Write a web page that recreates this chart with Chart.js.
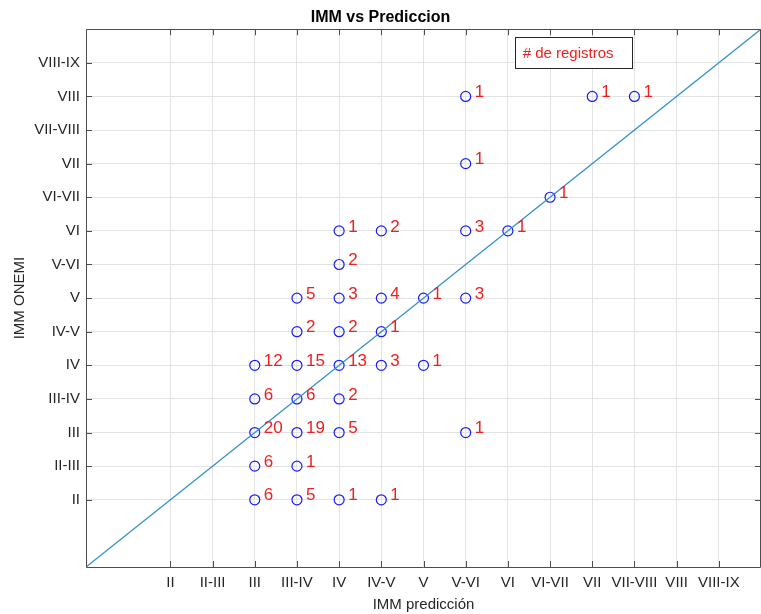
<!DOCTYPE html>
<html>
<head>
<meta charset="utf-8">
<script src="https://cdn.jsdelivr.net/npm/chart.js@4/dist/chart.umd.min.js"></script>
<style>
  html, body { margin: 0; padding: 0; background: #fff; }
</style>
</head>
<body>
<canvas id="chart" width="761" height="614"></canvas>
<script>
// intensity levels used on both axes (value = index + 2)
const levels = ['II', 'II-III', 'III', 'III-IV', 'IV', 'IV-V', 'V', 'V-VI', 'VI', 'VI-VII', 'VII', 'VII-VIII', 'VIII', 'VIII-IX'];

// one entry per marker: predicted level, ONEMI level, number of records
const predicted = ['V-VI', 'VII', 'VII-VIII', 'V-VI', 'VI-VII', 'IV', 'IV-V', 'V-VI', 'VI', 'IV',
  'III-IV', 'IV', 'IV-V', 'V', 'V-VI', 'III-IV', 'IV', 'IV-V', 'III', 'III-IV', 'IV', 'IV-V', 'V',
  'III', 'III-IV', 'IV', 'III', 'III-IV', 'IV', 'V-VI', 'III', 'III-IV', 'III', 'III-IV', 'IV', 'IV-V'];
const observed = ['VIII', 'VIII', 'VIII', 'VII', 'VI-VII', 'VI', 'VI', 'VI', 'VI', 'V-VI',
  'V', 'V', 'V', 'V', 'V', 'IV-V', 'IV-V', 'IV-V', 'IV', 'IV', 'IV', 'IV', 'IV',
  'III-IV', 'III-IV', 'III-IV', 'III', 'III', 'III', 'III', 'II-III', 'II-III', 'II', 'II', 'II', 'II'];
const counts = [1, 1, 1, 1, 1, 1, 2, 3, 1, 2,
  5, 3, 4, 1, 3, 2, 2, 1, 12, 15, 13, 3, 1,
  6, 6, 2, 20, 19, 5, 1, 6, 1, 6, 5, 1, 1];

// reference line y = x across the full axis range
const diagonal = [0, 16];

const FONT = "'Liberation Sans', Arial, Helvetica, sans-serif";
const levelValue = l => levels.indexOf(l) + 2;
const levelTicks = () => levels.map((l, i) => ({ value: i + 2 }));

const points = predicted.map((p, i) => ({ x: levelValue(p), y: levelValue(observed[i]) }));

// frame, inward tick marks, count labels and the text legend
const decorations = {
  id: 'decorations',
  afterDraw(chart) {
    const { ctx, chartArea: a, scales } = chart;
    ctx.save();
    ctx.strokeStyle = '#4d4d4d';
    ctx.lineWidth = 1;
    ctx.beginPath();
    ctx.rect(Math.round(a.left) + 0.5, Math.round(a.top) + 0.5,
      Math.round(a.right - a.left) - 1, Math.round(a.bottom - a.top));
    const tl = 6;
    scales.x.ticks.forEach(t => {
      const px = Math.round(scales.x.getPixelForValue(t.value)) + 0.5;
      ctx.moveTo(px, a.bottom); ctx.lineTo(px, a.bottom - tl);
      ctx.moveTo(px, a.top); ctx.lineTo(px, a.top + tl);
    });
    scales.y.ticks.forEach(t => {
      const py = Math.round(scales.y.getPixelForValue(t.value)) + 0.5;
      ctx.moveTo(a.left, py); ctx.lineTo(a.left + tl, py);
      ctx.moveTo(a.right, py); ctx.lineTo(a.right - tl, py);
    });
    ctx.stroke();

    // number of records next to each marker
    const meta = chart.getDatasetMeta(1);
    ctx.fillStyle = '#f01e1e';
    ctx.font = '17px ' + FONT;
    ctx.textAlign = 'left';
    ctx.textBaseline = 'middle';
    meta.data.forEach((el, i) => {
      ctx.fillText(String(counts[i]), el.x + 9, el.y - 4);
    });

    // legend box
    const bx = a.left + (a.right - a.left) * 0.635;
    const by = a.top + 8;
    const bw = 117, bh = 31;
    ctx.fillStyle = '#fff';
    ctx.fillRect(bx, by, bw, bh);
    ctx.strokeStyle = '#262626';
    ctx.strokeRect(Math.round(bx) + 0.5, Math.round(by) + 0.5, bw, bh);
    ctx.fillStyle = '#f01e1e';
    ctx.font = '15px ' + FONT;
    ctx.fillText('# de registros', bx + 8, by + bh / 2 + 1);
    ctx.restore();
  }
};

new Chart(document.getElementById('chart'), {
  type: 'scatter',
  data: {
    datasets: [
      {
        type: 'line',
        data: diagonal.map(v => ({ x: v, y: v })),
        borderColor: '#2f8fc8',
        borderWidth: 1.3,
        pointRadius: 0,
        fill: false
      },
      {
        data: points,
        pointStyle: 'circle',
        pointRadius: 5,
        borderWidth: 1.2,
        borderColor: '#1a1aff',
        backgroundColor: 'rgba(0,0,0,0)'
      }
    ]
  },
  options: {
    responsive: false,
    animation: false,
    layout: { padding: 0, autoPadding: false },
    plugins: {
      legend: { display: false },
      tooltip: { enabled: false },
      title: {
        display: true,
        text: 'IMM vs Prediccion',
        color: '#000',
        font: { family: FONT, size: 16, weight: 'bold' },
        padding: { top: 8, bottom: 2 }
      }
    },
    scales: {
      x: {
        type: 'linear',
        min: 0,
        max: 16,
        afterBuildTicks: s => { s.ticks = levelTicks(); },
        afterFit: s => { s.height = 47; },
        ticks: {
          callback: v => levels[Math.round(v) - 2],
          autoSkip: false,
          maxRotation: 0,
          minRotation: 0,
          padding: 7,
          color: '#262626',
          font: { family: FONT, size: 15 }
        },
        grid: { color: '#e3e3e3', drawTicks: false },
        border: { display: false },
        title: {
          display: true,
          text: 'IMM predicción',
          color: '#262626',
          font: { family: FONT, size: 15 },
          padding: { top: 0, bottom: 0 }
        }
      },
      y: {
        type: 'linear',
        min: 0,
        max: 16,
        afterBuildTicks: s => { s.ticks = levelTicks(); },
        afterFit: s => { s.width = 86; },
        ticks: {
          callback: v => levels[Math.round(v) - 2],
          autoSkip: false,
          padding: 6,
          color: '#262626',
          font: { family: FONT, size: 15 }
        },
        grid: { color: '#e3e3e3', drawTicks: false },
        border: { display: false },
        title: {
          display: true,
          text: 'IMM ONEMI',
          color: '#262626',
          font: { family: FONT, size: 15 },
          padding: { top: 11, bottom: 0 }
        }
      }
    }
  },
  plugins: [decorations]
});
</script>
</body>
</html>
